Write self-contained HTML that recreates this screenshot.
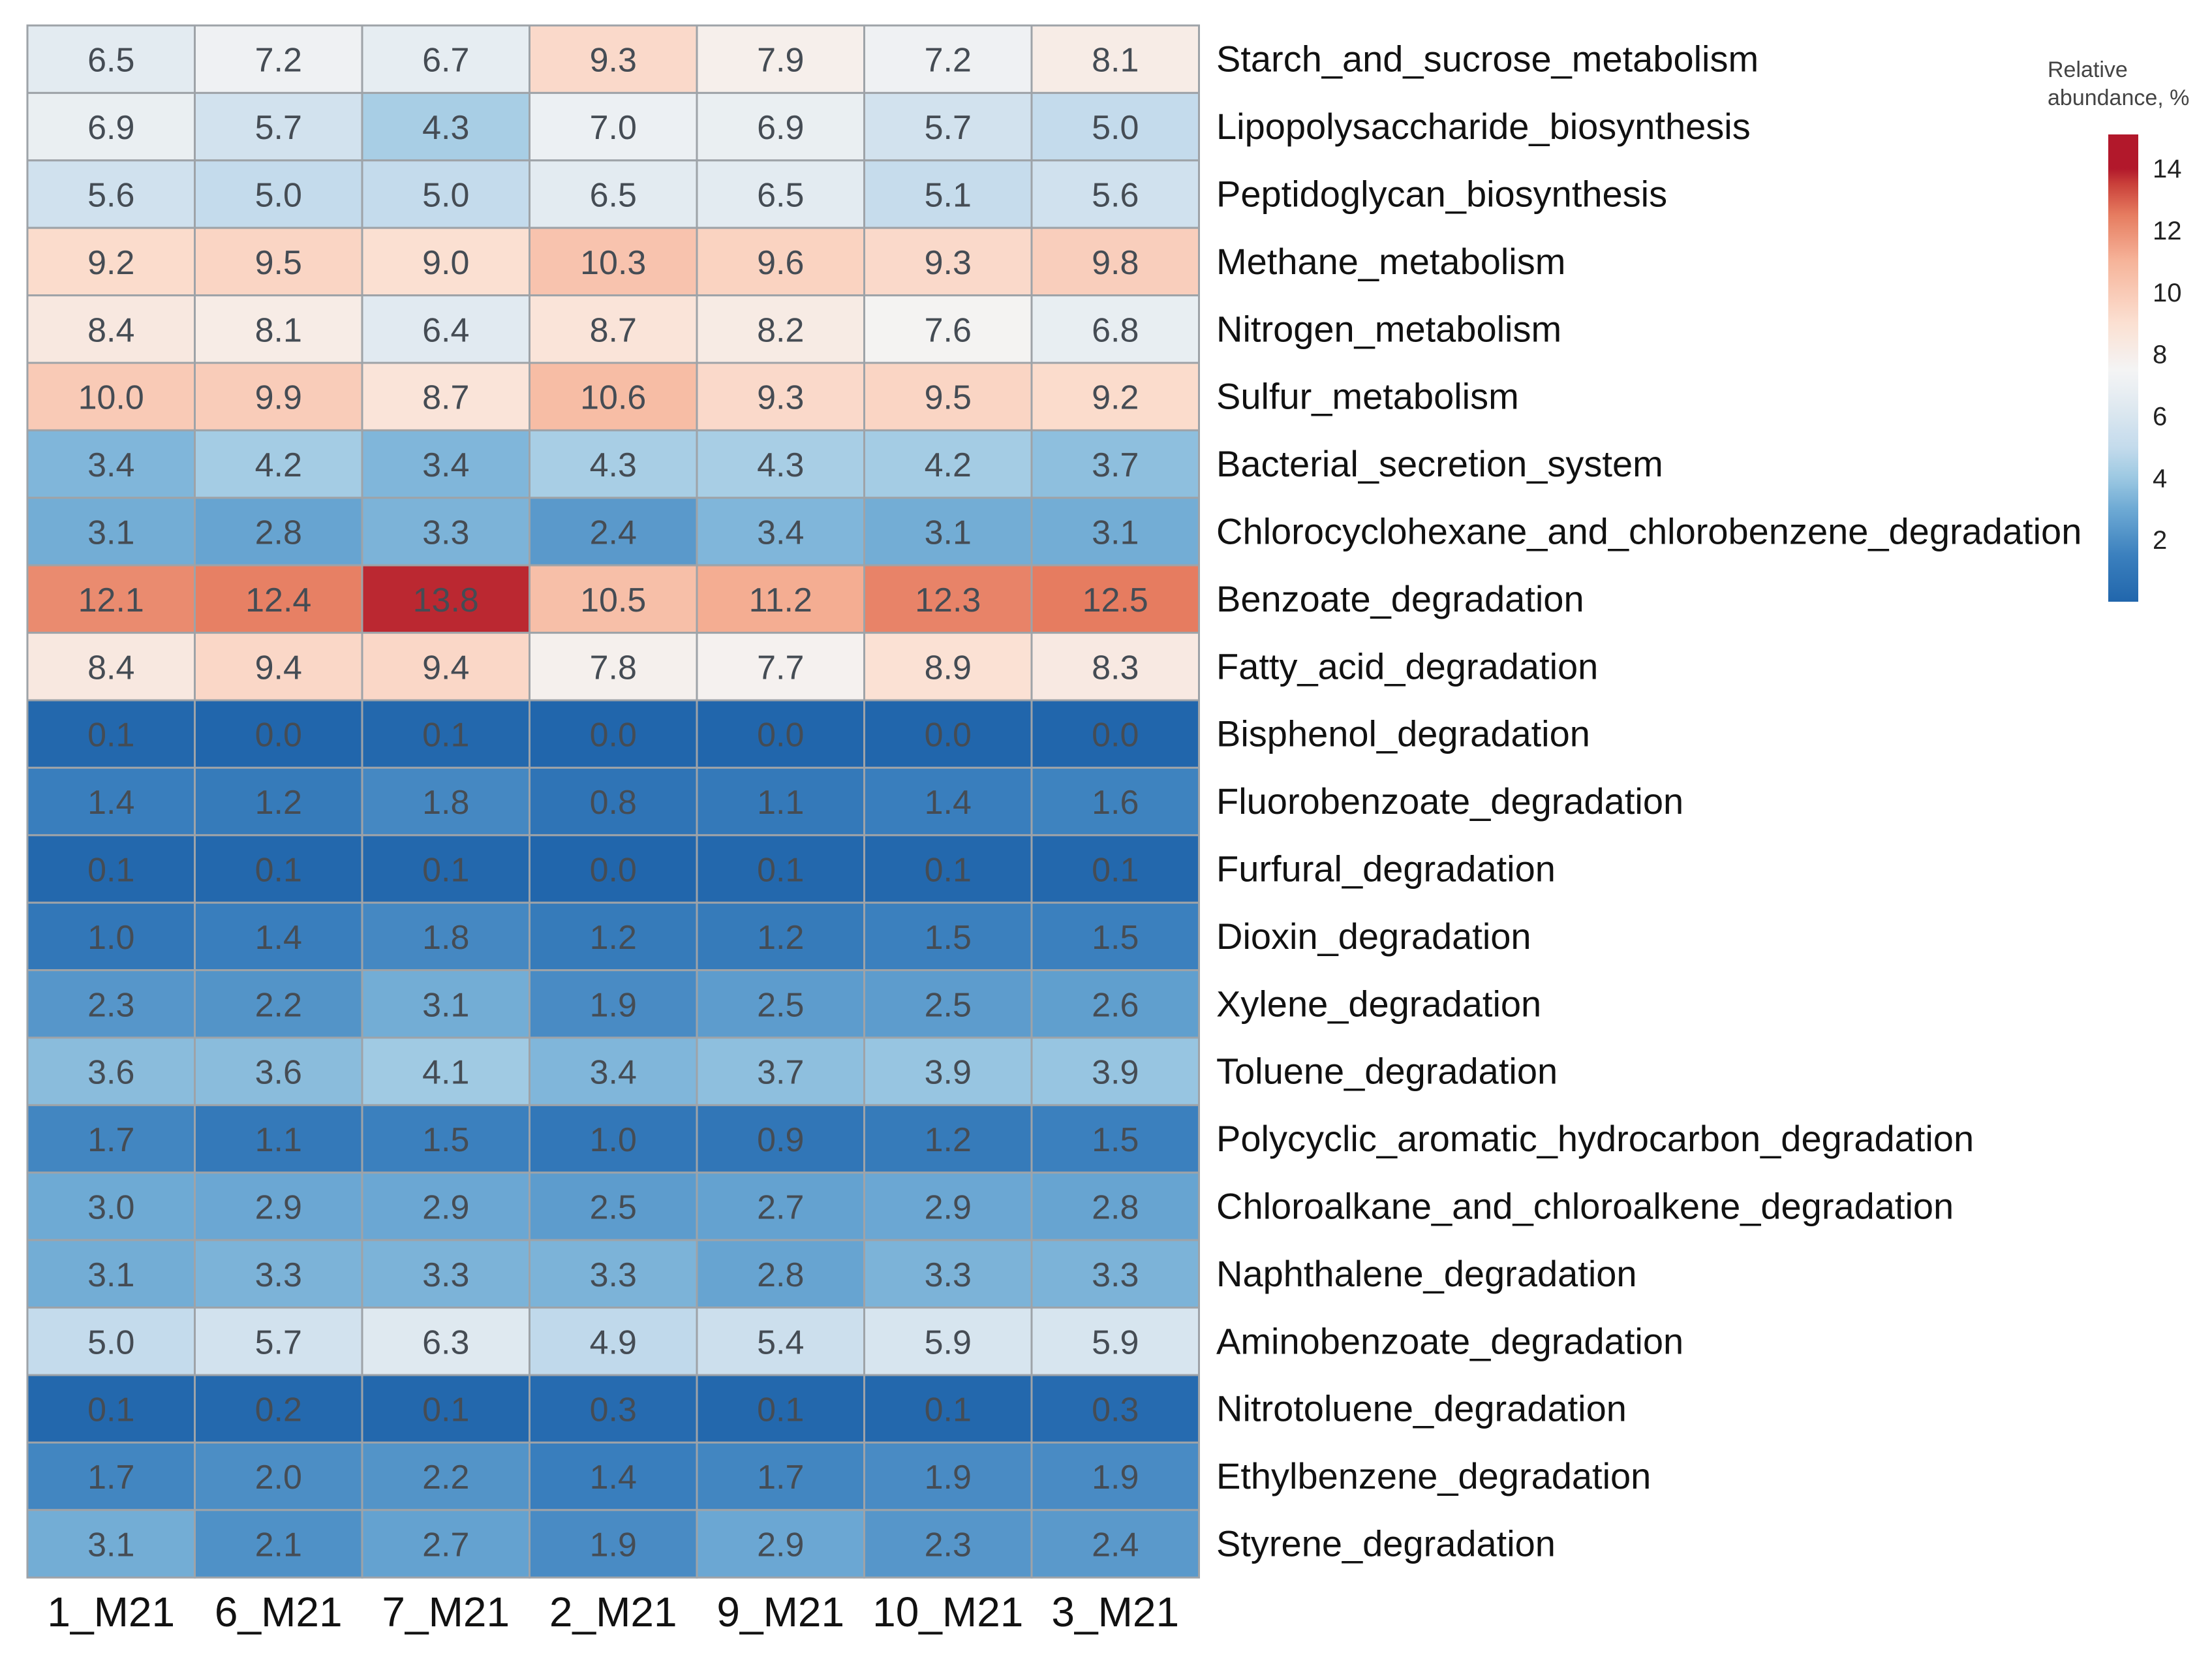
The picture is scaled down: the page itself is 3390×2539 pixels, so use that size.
<!DOCTYPE html>
<html><head><meta charset="utf-8"><style>
html,body{margin:0;padding:0;background:#fff;}
svg{display:block;font-family:"Liberation Sans",sans-serif;}
</style></head><body>
<svg id="chart" width="3390" height="2539" viewBox="0 0 3390 2539" xmlns="http://www.w3.org/2000/svg">
<defs>
<linearGradient id="cbar" x1="0" y1="1" x2="0" y2="0"></linearGradient>
</defs>
<g id="cells"></g>
<g id="rowlabels"></g>
<g id="collabels"></g>
<g id="legend">
<text x="3138" y="118" font-size="34" fill="#444">Relative</text>
<text x="3138" y="161" font-size="34" fill="#444">abundance, %</text>
</g>
</svg>
<script>
const samples = ["1_M21","6_M21","7_M21","2_M21","9_M21","10_M21","3_M21"];
const pathways = ["Starch_and_sucrose_metabolism","Lipopolysaccharide_biosynthesis","Peptidoglycan_biosynthesis","Methane_metabolism","Nitrogen_metabolism","Sulfur_metabolism","Bacterial_secretion_system","Chlorocyclohexane_and_chlorobenzene_degradation","Benzoate_degradation","Fatty_acid_degradation","Bisphenol_degradation","Fluorobenzoate_degradation","Furfural_degradation","Dioxin_degradation","Xylene_degradation","Toluene_degradation","Polycyclic_aromatic_hydrocarbon_degradation","Chloroalkane_and_chloroalkene_degradation","Naphthalene_degradation","Aminobenzoate_degradation","Nitrotoluene_degradation","Ethylbenzene_degradation","Styrene_degradation"];
const values = [
[6.5,7.2,6.7,9.3,7.9,7.2,8.1],
[6.9,5.7,4.3,7.0,6.9,5.7,5.0],
[5.6,5.0,5.0,6.5,6.5,5.1,5.6],
[9.2,9.5,9.0,10.3,9.6,9.3,9.8],
[8.4,8.1,6.4,8.7,8.2,7.6,6.8],
[10.0,9.9,8.7,10.6,9.3,9.5,9.2],
[3.4,4.2,3.4,4.3,4.3,4.2,3.7],
[3.1,2.8,3.3,2.4,3.4,3.1,3.1],
[12.1,12.4,13.8,10.5,11.2,12.3,12.5],
[8.4,9.4,9.4,7.8,7.7,8.9,8.3],
[0.1,0.0,0.1,0.0,0.0,0.0,0.0],
[1.4,1.2,1.8,0.8,1.1,1.4,1.6],
[0.1,0.1,0.1,0.0,0.1,0.1,0.1],
[1.0,1.4,1.8,1.2,1.2,1.5,1.5],
[2.3,2.2,3.1,1.9,2.5,2.5,2.6],
[3.6,3.6,4.1,3.4,3.7,3.9,3.9],
[1.7,1.1,1.5,1.0,0.9,1.2,1.5],
[3.0,2.9,2.9,2.5,2.7,2.9,2.8],
[3.1,3.3,3.3,3.3,2.8,3.3,3.3],
[5.0,5.7,6.3,4.9,5.4,5.9,5.9],
[0.1,0.2,0.1,0.3,0.1,0.1,0.3],
[1.7,2.0,2.2,1.4,1.7,1.9,1.9],
[3.1,2.1,2.7,1.9,2.9,2.3,2.4]];
const legendTicks = [2,4,6,8,10,12,14];

const NS="http://www.w3.org/2000/svg";
const stops=[[0,[33,102,172]],[1.5,[59,128,190]],[3,[110,170,212]],[4,[156,200,226]],[5,[196,219,236]],[6.5,[227,235,241]],[7.5,[244,244,244]],[9,[251,224,210]],[11,[246,180,154]],[12.5,[230,124,96]],[13.5,[201,64,58]],[14,[178,24,43]],[15,[178,24,43]]];
function color(v){
  for(let i=1;i<stops.length;i++){
    if(v<=stops[i][0]){const a=stops[i-1],b=stops[i];const t=(v-a[0])/(b[0]-a[0]);
      const c=a[1].map((x,k)=>Math.round(x+(b[1][k]-x)*t));return `rgb(${c.join(',')})`;}
  }
  return 'rgb(178,24,43)';
}
const X0=42,Y0=39,CW=256.5,RH=103.4;
const xPos=j=>X0+j*CW, yPos=i=>Y0+i*RH;
const cells=document.getElementById('cells');
values.forEach((row,i)=>row.forEach((v,j)=>{
  const r=document.createElementNS(NS,'rect');
  
  
  r.setAttribute('x',xPos(j));r.setAttribute('y',yPos(i));
  r.setAttribute('width',CW);r.setAttribute('height',RH);
  r.setAttribute('fill',color(v));r.setAttribute('stroke','#9ea3a8');r.setAttribute('stroke-width','3');
  cells.appendChild(r);
  const t=document.createElementNS(NS,'text');
  
  
  t.setAttribute('x',xPos(j)+CW/2);t.setAttribute('y',yPos(i)+RH/2+19);
  t.setAttribute('text-anchor','middle');t.setAttribute('font-size','52');t.setAttribute('fill','#454c54');
  t.textContent=v.toFixed(1);cells.appendChild(t);
}));
const rl=document.getElementById('rowlabels');
pathways.forEach((p,i)=>{
  const t=document.createElementNS(NS,'text');
  
  
  t.setAttribute('x',1864);t.setAttribute('y',yPos(i)+RH/2+19);
  t.setAttribute('font-size','56');t.setAttribute('fill','#111');
  t.textContent=p;rl.appendChild(t);
});
const cl=document.getElementById('collabels');
samples.forEach((s,j)=>{
  const t=document.createElementNS(NS,'text');
  
  
  t.setAttribute('x',xPos(j)+CW/2);t.setAttribute('y',2492);
  t.setAttribute('text-anchor','middle');t.setAttribute('font-size','64');t.setAttribute('fill','#111');
  t.textContent=s;cl.appendChild(t);
});
// legend
const vMin=0,vMax=15.1,barTop=206,barBot=922;
const ly=v=>barBot-(v-vMin)/(vMax-vMin)*(barBot-barTop);
const grad=document.getElementById('cbar');
for(let v=0;v<=15;v+=0.5){const s=document.createElementNS(NS,'stop');s.setAttribute('offset',(v/vMax));s.setAttribute('stop-color',color(v));grad.appendChild(s);}
const lg=document.getElementById('legend');
const bar=document.createElementNS(NS,'rect');


bar.setAttribute('x',3231);bar.setAttribute('y',barTop);bar.setAttribute('width',46);bar.setAttribute('height',barBot-barTop);
bar.setAttribute('fill','url(#cbar)');lg.appendChild(bar);
legendTicks.forEach(v=>{
  const t=document.createElementNS(NS,'text');
  
  
  t.setAttribute('x',3299);t.setAttribute('y',ly(v)+14);
  t.setAttribute('font-size','40');t.setAttribute('fill','#222');
  t.textContent=v;lg.appendChild(t);
});
</script>
</body></html>
